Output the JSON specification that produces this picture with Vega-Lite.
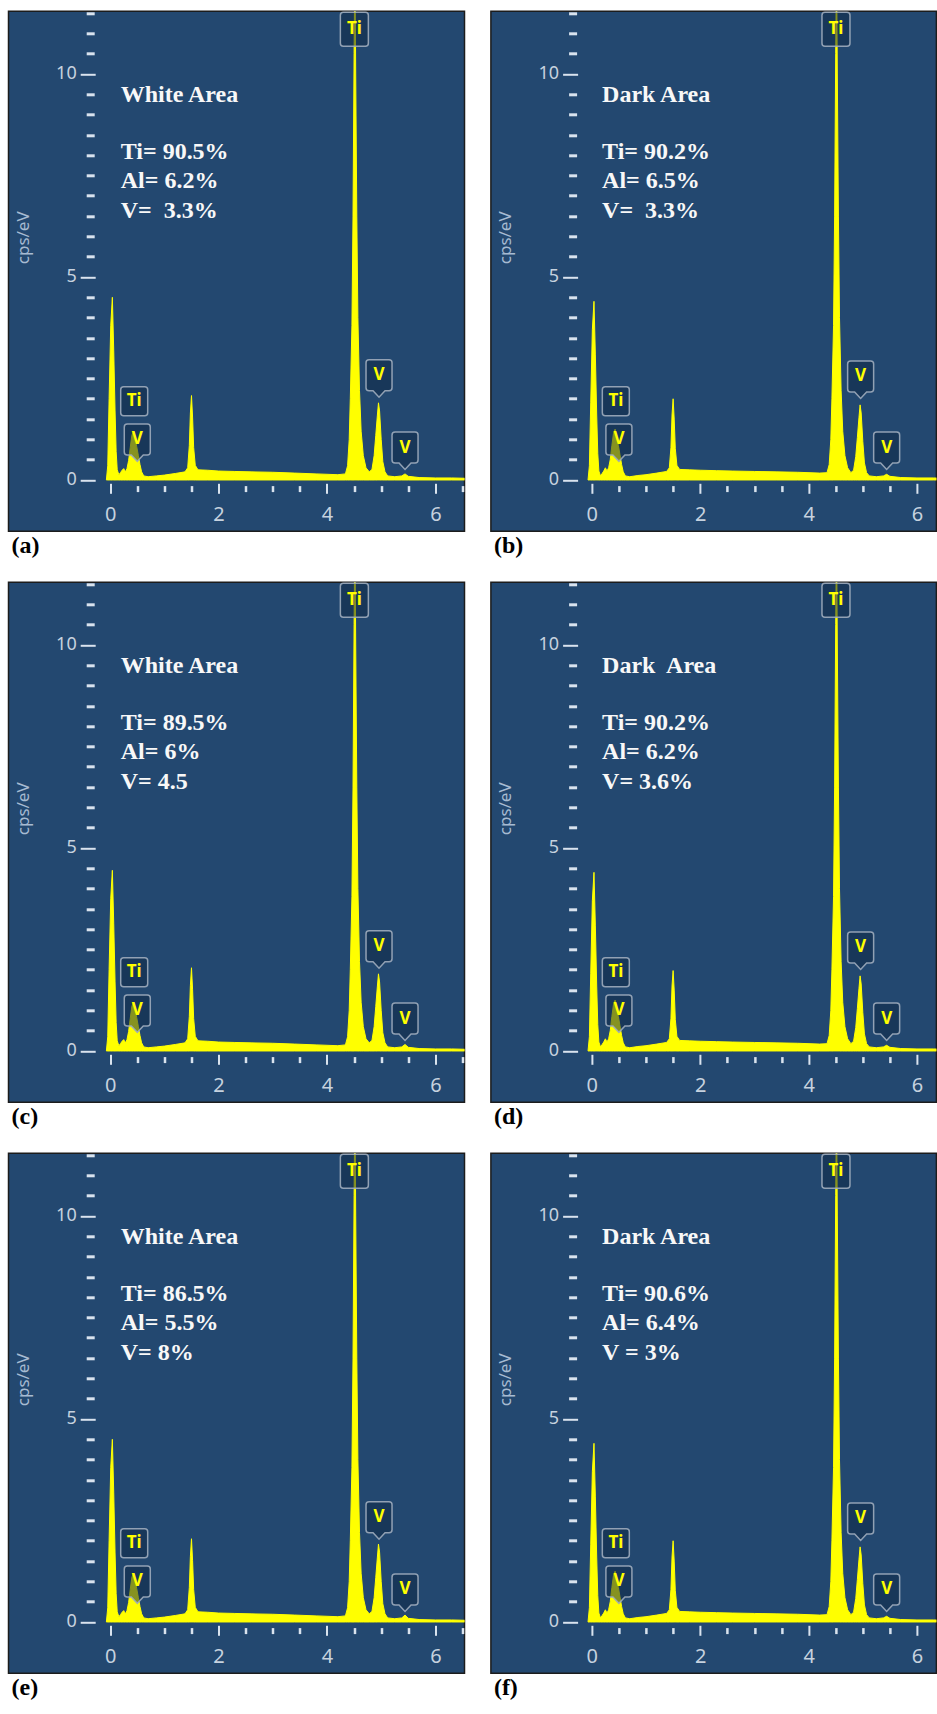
{
"$schema": "https://vega.github.io/schema/vega-lite/v6.json",
"padding": {"left": 7.5, "top": 8.3, "right": 0, "bottom": 0},
"background": "white",
"bounds": "flush",
"columns": 2,
"spacing": {"row": 51, "column": 26.4},
"datasets": {
"spec": [
{"p":"a","x":-0.07,"y":0},{"p":"a","x":-0.045,"y":0.35},{"p":"a","x":-0.02,"y":2.0},{"p":"a","x":0.01,"y":3.8},{"p":"a","x":0.04,"y":4.5},{"p":"a","x":0.065,"y":3.2},{"p":"a","x":0.09,"y":1.7},{"p":"a","x":0.11,"y":0.7},{"p":"a","x":0.13,"y":0.25},{"p":"a","x":0.16,"y":0.13},{"p":"a","x":0.19,"y":0.18},{"p":"a","x":0.22,"y":0.24},{"p":"a","x":0.25,"y":0.28},{"p":"a","x":0.28,"y":0.2},{"p":"a","x":0.31,"y":0.28},{"p":"a","x":0.34,"y":0.48},{"p":"a","x":0.37,"y":0.8},{"p":"a","x":0.4,"y":1.1},{"p":"a","x":0.43,"y":1.2},{"p":"a","x":0.46,"y":1.02},{"p":"a","x":0.49,"y":0.82},{"p":"a","x":0.52,"y":0.6},{"p":"a","x":0.55,"y":0.38},{"p":"a","x":0.58,"y":0.2},{"p":"a","x":0.62,"y":0.1},{"p":"a","x":0.7,"y":0.08},{"p":"a","x":0.85,"y":0.1},{"p":"a","x":1.0,"y":0.12},{"p":"a","x":1.2,"y":0.16},{"p":"a","x":1.38,"y":0.2},{"p":"a","x":1.43,"y":0.3},{"p":"a","x":1.46,"y":0.85},{"p":"a","x":1.48,"y":1.65},{"p":"a","x":1.5,"y":2.08},{"p":"a","x":1.52,"y":1.55},{"p":"a","x":1.54,"y":0.8},{"p":"a","x":1.57,"y":0.36},{"p":"a","x":1.62,"y":0.25},{"p":"a","x":1.8,"y":0.24},{"p":"a","x":2.0,"y":0.22},{"p":"a","x":2.3,"y":0.21},{"p":"a","x":2.6,"y":0.2},{"p":"a","x":3.0,"y":0.19},{"p":"a","x":3.4,"y":0.17},{"p":"a","x":3.8,"y":0.15},{"p":"a","x":4.2,"y":0.13},{"p":"a","x":4.34,"y":0.15},{"p":"a","x":4.38,"y":0.35},{"p":"a","x":4.41,"y":1.0},{"p":"a","x":4.43,"y":2.0},{"p":"a","x":4.46,"y":3.8},{"p":"a","x":4.48,"y":6.5},{"p":"a","x":4.5,"y":10.5},{"p":"a","x":4.515,"y":13},{"p":"a","x":4.53,"y":10},{"p":"a","x":4.55,"y":6.5},{"p":"a","x":4.57,"y":4.0},{"p":"a","x":4.6,"y":2.2},{"p":"a","x":4.63,"y":1.2},{"p":"a","x":4.67,"y":0.6},{"p":"a","x":4.72,"y":0.3},{"p":"a","x":4.78,"y":0.2},{"p":"a","x":4.83,"y":0.26},{"p":"a","x":4.87,"y":0.6},{"p":"a","x":4.9,"y":1.1},{"p":"a","x":4.93,"y":1.6},{"p":"a","x":4.95,"y":1.9},{"p":"a","x":4.97,"y":1.7},{"p":"a","x":5.0,"y":1.0},{"p":"a","x":5.03,"y":0.45},{"p":"a","x":5.07,"y":0.2},{"p":"a","x":5.12,"y":0.1},{"p":"a","x":5.25,"y":0.08},{"p":"a","x":5.38,"y":0.1},{"p":"a","x":5.44,"y":0.15},{"p":"a","x":5.5,"y":0.09},{"p":"a","x":5.7,"y":0.06},{"p":"a","x":6.0,"y":0.05},{"p":"a","x":6.3,"y":0.05},{"p":"a","x":6.6,"y":0.04},
{"p":"b","x":-0.07,"y":0},{"p":"b","x":-0.045,"y":0.35},{"p":"b","x":-0.02,"y":1.9},{"p":"b","x":0.01,"y":3.7},{"p":"b","x":0.04,"y":4.4},{"p":"b","x":0.065,"y":3.1},{"p":"b","x":0.09,"y":1.6},{"p":"b","x":0.11,"y":0.65},{"p":"b","x":0.13,"y":0.22},{"p":"b","x":0.16,"y":0.1},{"p":"b","x":0.19,"y":0.16},{"p":"b","x":0.22,"y":0.22},{"p":"b","x":0.25,"y":0.3},{"p":"b","x":0.28,"y":0.22},{"p":"b","x":0.31,"y":0.3},{"p":"b","x":0.34,"y":0.5},{"p":"b","x":0.37,"y":0.85},{"p":"b","x":0.4,"y":1.15},{"p":"b","x":0.43,"y":1.25},{"p":"b","x":0.46,"y":1.05},{"p":"b","x":0.49,"y":0.85},{"p":"b","x":0.52,"y":0.62},{"p":"b","x":0.55,"y":0.38},{"p":"b","x":0.58,"y":0.2},{"p":"b","x":0.62,"y":0.1},{"p":"b","x":0.7,"y":0.08},{"p":"b","x":0.85,"y":0.11},{"p":"b","x":1.0,"y":0.13},{"p":"b","x":1.2,"y":0.17},{"p":"b","x":1.38,"y":0.21},{"p":"b","x":1.43,"y":0.3},{"p":"b","x":1.46,"y":0.8},{"p":"b","x":1.48,"y":1.6},{"p":"b","x":1.5,"y":2.0},{"p":"b","x":1.52,"y":1.5},{"p":"b","x":1.54,"y":0.78},{"p":"b","x":1.57,"y":0.36},{"p":"b","x":1.62,"y":0.26},{"p":"b","x":1.8,"y":0.25},{"p":"b","x":2.0,"y":0.24},{"p":"b","x":2.3,"y":0.23},{"p":"b","x":2.6,"y":0.22},{"p":"b","x":3.0,"y":0.21},{"p":"b","x":3.4,"y":0.2},{"p":"b","x":3.8,"y":0.19},{"p":"b","x":4.2,"y":0.17},{"p":"b","x":4.34,"y":0.18},{"p":"b","x":4.38,"y":0.38},{"p":"b","x":4.41,"y":1.0},{"p":"b","x":4.43,"y":2.0},{"p":"b","x":4.46,"y":3.8},{"p":"b","x":4.48,"y":6.5},{"p":"b","x":4.5,"y":10.5},{"p":"b","x":4.515,"y":13},{"p":"b","x":4.53,"y":10},{"p":"b","x":4.55,"y":6.5},{"p":"b","x":4.57,"y":4.0},{"p":"b","x":4.6,"y":2.2},{"p":"b","x":4.63,"y":1.2},{"p":"b","x":4.67,"y":0.6},{"p":"b","x":4.72,"y":0.3},{"p":"b","x":4.78,"y":0.18},{"p":"b","x":4.83,"y":0.24},{"p":"b","x":4.87,"y":0.58},{"p":"b","x":4.9,"y":1.05},{"p":"b","x":4.93,"y":1.55},{"p":"b","x":4.95,"y":1.85},{"p":"b","x":4.97,"y":1.65},{"p":"b","x":5.0,"y":0.95},{"p":"b","x":5.03,"y":0.42},{"p":"b","x":5.07,"y":0.18},{"p":"b","x":5.12,"y":0.1},{"p":"b","x":5.25,"y":0.08},{"p":"b","x":5.38,"y":0.1},{"p":"b","x":5.44,"y":0.14},{"p":"b","x":5.5,"y":0.09},{"p":"b","x":5.7,"y":0.06},{"p":"b","x":6.0,"y":0.05},{"p":"b","x":6.3,"y":0.05},{"p":"b","x":6.6,"y":0.04},
{"p":"c","x":-0.07,"y":0},{"p":"c","x":-0.045,"y":0.35},{"p":"c","x":-0.02,"y":2.0},{"p":"c","x":0.01,"y":3.75},{"p":"c","x":0.04,"y":4.45},{"p":"c","x":0.065,"y":3.15},{"p":"c","x":0.09,"y":1.7},{"p":"c","x":0.11,"y":0.7},{"p":"c","x":0.13,"y":0.25},{"p":"c","x":0.16,"y":0.13},{"p":"c","x":0.19,"y":0.18},{"p":"c","x":0.22,"y":0.24},{"p":"c","x":0.25,"y":0.28},{"p":"c","x":0.28,"y":0.2},{"p":"c","x":0.31,"y":0.28},{"p":"c","x":0.34,"y":0.48},{"p":"c","x":0.37,"y":0.8},{"p":"c","x":0.4,"y":1.1},{"p":"c","x":0.43,"y":1.2},{"p":"c","x":0.46,"y":1.02},{"p":"c","x":0.49,"y":0.82},{"p":"c","x":0.52,"y":0.6},{"p":"c","x":0.55,"y":0.38},{"p":"c","x":0.58,"y":0.2},{"p":"c","x":0.62,"y":0.1},{"p":"c","x":0.7,"y":0.08},{"p":"c","x":0.85,"y":0.1},{"p":"c","x":1.0,"y":0.12},{"p":"c","x":1.2,"y":0.16},{"p":"c","x":1.38,"y":0.2},{"p":"c","x":1.43,"y":0.3},{"p":"c","x":1.46,"y":0.85},{"p":"c","x":1.48,"y":1.62},{"p":"c","x":1.5,"y":2.05},{"p":"c","x":1.52,"y":1.52},{"p":"c","x":1.54,"y":0.8},{"p":"c","x":1.57,"y":0.36},{"p":"c","x":1.62,"y":0.25},{"p":"c","x":1.8,"y":0.24},{"p":"c","x":2.0,"y":0.22},{"p":"c","x":2.3,"y":0.21},{"p":"c","x":2.6,"y":0.2},{"p":"c","x":3.0,"y":0.19},{"p":"c","x":3.4,"y":0.17},{"p":"c","x":3.8,"y":0.15},{"p":"c","x":4.2,"y":0.13},{"p":"c","x":4.34,"y":0.15},{"p":"c","x":4.38,"y":0.35},{"p":"c","x":4.41,"y":1.0},{"p":"c","x":4.43,"y":2.0},{"p":"c","x":4.46,"y":3.8},{"p":"c","x":4.48,"y":6.5},{"p":"c","x":4.5,"y":10.5},{"p":"c","x":4.515,"y":13},{"p":"c","x":4.53,"y":10},{"p":"c","x":4.55,"y":6.5},{"p":"c","x":4.57,"y":4.0},{"p":"c","x":4.6,"y":2.2},{"p":"c","x":4.63,"y":1.2},{"p":"c","x":4.67,"y":0.6},{"p":"c","x":4.72,"y":0.3},{"p":"c","x":4.78,"y":0.2},{"p":"c","x":4.83,"y":0.26},{"p":"c","x":4.87,"y":0.6},{"p":"c","x":4.9,"y":1.1},{"p":"c","x":4.93,"y":1.6},{"p":"c","x":4.95,"y":1.9},{"p":"c","x":4.97,"y":1.7},{"p":"c","x":5.0,"y":1.0},{"p":"c","x":5.03,"y":0.45},{"p":"c","x":5.07,"y":0.2},{"p":"c","x":5.12,"y":0.1},{"p":"c","x":5.25,"y":0.08},{"p":"c","x":5.38,"y":0.1},{"p":"c","x":5.44,"y":0.16},{"p":"c","x":5.5,"y":0.09},{"p":"c","x":5.7,"y":0.06},{"p":"c","x":6.0,"y":0.05},{"p":"c","x":6.3,"y":0.05},{"p":"c","x":6.6,"y":0.04},
{"p":"d","x":-0.07,"y":0},{"p":"d","x":-0.045,"y":0.35},{"p":"d","x":-0.02,"y":1.9},{"p":"d","x":0.01,"y":3.7},{"p":"d","x":0.04,"y":4.4},{"p":"d","x":0.065,"y":3.1},{"p":"d","x":0.09,"y":1.6},{"p":"d","x":0.11,"y":0.65},{"p":"d","x":0.13,"y":0.22},{"p":"d","x":0.16,"y":0.1},{"p":"d","x":0.19,"y":0.16},{"p":"d","x":0.22,"y":0.22},{"p":"d","x":0.25,"y":0.3},{"p":"d","x":0.28,"y":0.22},{"p":"d","x":0.31,"y":0.3},{"p":"d","x":0.34,"y":0.5},{"p":"d","x":0.37,"y":0.85},{"p":"d","x":0.4,"y":1.15},{"p":"d","x":0.43,"y":1.25},{"p":"d","x":0.46,"y":1.05},{"p":"d","x":0.49,"y":0.85},{"p":"d","x":0.52,"y":0.62},{"p":"d","x":0.55,"y":0.38},{"p":"d","x":0.58,"y":0.2},{"p":"d","x":0.62,"y":0.1},{"p":"d","x":0.7,"y":0.08},{"p":"d","x":0.85,"y":0.11},{"p":"d","x":1.0,"y":0.13},{"p":"d","x":1.2,"y":0.17},{"p":"d","x":1.38,"y":0.21},{"p":"d","x":1.43,"y":0.3},{"p":"d","x":1.46,"y":0.8},{"p":"d","x":1.48,"y":1.6},{"p":"d","x":1.5,"y":1.98},{"p":"d","x":1.52,"y":1.5},{"p":"d","x":1.54,"y":0.78},{"p":"d","x":1.57,"y":0.36},{"p":"d","x":1.62,"y":0.26},{"p":"d","x":1.8,"y":0.25},{"p":"d","x":2.0,"y":0.24},{"p":"d","x":2.3,"y":0.23},{"p":"d","x":2.6,"y":0.22},{"p":"d","x":3.0,"y":0.21},{"p":"d","x":3.4,"y":0.2},{"p":"d","x":3.8,"y":0.19},{"p":"d","x":4.2,"y":0.17},{"p":"d","x":4.34,"y":0.18},{"p":"d","x":4.38,"y":0.38},{"p":"d","x":4.41,"y":1.0},{"p":"d","x":4.43,"y":2.0},{"p":"d","x":4.46,"y":3.8},{"p":"d","x":4.48,"y":6.5},{"p":"d","x":4.5,"y":10.5},{"p":"d","x":4.515,"y":13},{"p":"d","x":4.53,"y":10},{"p":"d","x":4.55,"y":6.5},{"p":"d","x":4.57,"y":4.0},{"p":"d","x":4.6,"y":2.2},{"p":"d","x":4.63,"y":1.2},{"p":"d","x":4.67,"y":0.6},{"p":"d","x":4.72,"y":0.3},{"p":"d","x":4.78,"y":0.18},{"p":"d","x":4.83,"y":0.24},{"p":"d","x":4.87,"y":0.58},{"p":"d","x":4.9,"y":1.05},{"p":"d","x":4.93,"y":1.55},{"p":"d","x":4.95,"y":1.85},{"p":"d","x":4.97,"y":1.65},{"p":"d","x":5.0,"y":0.95},{"p":"d","x":5.03,"y":0.42},{"p":"d","x":5.07,"y":0.18},{"p":"d","x":5.12,"y":0.1},{"p":"d","x":5.25,"y":0.08},{"p":"d","x":5.38,"y":0.1},{"p":"d","x":5.44,"y":0.14},{"p":"d","x":5.5,"y":0.09},{"p":"d","x":5.7,"y":0.06},{"p":"d","x":6.0,"y":0.05},{"p":"d","x":6.3,"y":0.05},{"p":"d","x":6.6,"y":0.04},
{"p":"e","x":-0.07,"y":0},{"p":"e","x":-0.045,"y":0.35},{"p":"e","x":-0.02,"y":2.0},{"p":"e","x":0.01,"y":3.8},{"p":"e","x":0.04,"y":4.5},{"p":"e","x":0.065,"y":3.2},{"p":"e","x":0.09,"y":1.7},{"p":"e","x":0.11,"y":0.7},{"p":"e","x":0.13,"y":0.25},{"p":"e","x":0.16,"y":0.13},{"p":"e","x":0.19,"y":0.18},{"p":"e","x":0.22,"y":0.24},{"p":"e","x":0.25,"y":0.28},{"p":"e","x":0.28,"y":0.2},{"p":"e","x":0.31,"y":0.28},{"p":"e","x":0.34,"y":0.48},{"p":"e","x":0.37,"y":0.8},{"p":"e","x":0.4,"y":1.1},{"p":"e","x":0.43,"y":1.2},{"p":"e","x":0.46,"y":1.02},{"p":"e","x":0.49,"y":0.82},{"p":"e","x":0.52,"y":0.6},{"p":"e","x":0.55,"y":0.38},{"p":"e","x":0.58,"y":0.2},{"p":"e","x":0.62,"y":0.1},{"p":"e","x":0.7,"y":0.08},{"p":"e","x":0.85,"y":0.1},{"p":"e","x":1.0,"y":0.12},{"p":"e","x":1.2,"y":0.16},{"p":"e","x":1.38,"y":0.2},{"p":"e","x":1.43,"y":0.3},{"p":"e","x":1.46,"y":0.85},{"p":"e","x":1.48,"y":1.62},{"p":"e","x":1.5,"y":2.05},{"p":"e","x":1.52,"y":1.52},{"p":"e","x":1.54,"y":0.8},{"p":"e","x":1.57,"y":0.36},{"p":"e","x":1.62,"y":0.25},{"p":"e","x":1.8,"y":0.24},{"p":"e","x":2.0,"y":0.22},{"p":"e","x":2.3,"y":0.21},{"p":"e","x":2.6,"y":0.2},{"p":"e","x":3.0,"y":0.19},{"p":"e","x":3.4,"y":0.17},{"p":"e","x":3.8,"y":0.15},{"p":"e","x":4.2,"y":0.13},{"p":"e","x":4.34,"y":0.15},{"p":"e","x":4.38,"y":0.35},{"p":"e","x":4.41,"y":1.0},{"p":"e","x":4.43,"y":2.0},{"p":"e","x":4.46,"y":3.8},{"p":"e","x":4.48,"y":6.5},{"p":"e","x":4.5,"y":10.5},{"p":"e","x":4.515,"y":13},{"p":"e","x":4.53,"y":10},{"p":"e","x":4.55,"y":6.5},{"p":"e","x":4.57,"y":4.0},{"p":"e","x":4.6,"y":2.2},{"p":"e","x":4.63,"y":1.2},{"p":"e","x":4.67,"y":0.6},{"p":"e","x":4.72,"y":0.3},{"p":"e","x":4.78,"y":0.2},{"p":"e","x":4.83,"y":0.26},{"p":"e","x":4.87,"y":0.6},{"p":"e","x":4.9,"y":1.1},{"p":"e","x":4.93,"y":1.6},{"p":"e","x":4.95,"y":1.92},{"p":"e","x":4.97,"y":1.72},{"p":"e","x":5.0,"y":1.0},{"p":"e","x":5.03,"y":0.45},{"p":"e","x":5.07,"y":0.2},{"p":"e","x":5.12,"y":0.1},{"p":"e","x":5.25,"y":0.08},{"p":"e","x":5.38,"y":0.1},{"p":"e","x":5.44,"y":0.17},{"p":"e","x":5.5,"y":0.09},{"p":"e","x":5.7,"y":0.06},{"p":"e","x":6.0,"y":0.05},{"p":"e","x":6.3,"y":0.05},{"p":"e","x":6.6,"y":0.04},
{"p":"f","x":-0.07,"y":0},{"p":"f","x":-0.045,"y":0.35},{"p":"f","x":-0.02,"y":1.9},{"p":"f","x":0.01,"y":3.7},{"p":"f","x":0.04,"y":4.4},{"p":"f","x":0.065,"y":3.1},{"p":"f","x":0.09,"y":1.6},{"p":"f","x":0.11,"y":0.65},{"p":"f","x":0.13,"y":0.22},{"p":"f","x":0.16,"y":0.1},{"p":"f","x":0.19,"y":0.16},{"p":"f","x":0.22,"y":0.22},{"p":"f","x":0.25,"y":0.3},{"p":"f","x":0.28,"y":0.22},{"p":"f","x":0.31,"y":0.3},{"p":"f","x":0.34,"y":0.5},{"p":"f","x":0.37,"y":0.85},{"p":"f","x":0.4,"y":1.15},{"p":"f","x":0.43,"y":1.25},{"p":"f","x":0.46,"y":1.05},{"p":"f","x":0.49,"y":0.85},{"p":"f","x":0.52,"y":0.62},{"p":"f","x":0.55,"y":0.38},{"p":"f","x":0.58,"y":0.2},{"p":"f","x":0.62,"y":0.1},{"p":"f","x":0.7,"y":0.08},{"p":"f","x":0.85,"y":0.11},{"p":"f","x":1.0,"y":0.13},{"p":"f","x":1.2,"y":0.17},{"p":"f","x":1.38,"y":0.21},{"p":"f","x":1.43,"y":0.3},{"p":"f","x":1.46,"y":0.8},{"p":"f","x":1.48,"y":1.6},{"p":"f","x":1.5,"y":2.0},{"p":"f","x":1.52,"y":1.5},{"p":"f","x":1.54,"y":0.78},{"p":"f","x":1.57,"y":0.36},{"p":"f","x":1.62,"y":0.26},{"p":"f","x":1.8,"y":0.25},{"p":"f","x":2.0,"y":0.24},{"p":"f","x":2.3,"y":0.23},{"p":"f","x":2.6,"y":0.22},{"p":"f","x":3.0,"y":0.21},{"p":"f","x":3.4,"y":0.2},{"p":"f","x":3.8,"y":0.19},{"p":"f","x":4.2,"y":0.17},{"p":"f","x":4.34,"y":0.18},{"p":"f","x":4.38,"y":0.38},{"p":"f","x":4.41,"y":1.0},{"p":"f","x":4.43,"y":2.0},{"p":"f","x":4.46,"y":3.8},{"p":"f","x":4.48,"y":6.5},{"p":"f","x":4.5,"y":10.5},{"p":"f","x":4.515,"y":13},{"p":"f","x":4.53,"y":10},{"p":"f","x":4.55,"y":6.5},{"p":"f","x":4.57,"y":4.0},{"p":"f","x":4.6,"y":2.2},{"p":"f","x":4.63,"y":1.2},{"p":"f","x":4.67,"y":0.6},{"p":"f","x":4.72,"y":0.3},{"p":"f","x":4.78,"y":0.18},{"p":"f","x":4.83,"y":0.24},{"p":"f","x":4.87,"y":0.58},{"p":"f","x":4.9,"y":1.05},{"p":"f","x":4.93,"y":1.55},{"p":"f","x":4.95,"y":1.85},{"p":"f","x":4.97,"y":1.65},{"p":"f","x":5.0,"y":0.95},{"p":"f","x":5.03,"y":0.42},{"p":"f","x":5.07,"y":0.18},{"p":"f","x":5.12,"y":0.1},{"p":"f","x":5.25,"y":0.08},{"p":"f","x":5.38,"y":0.1},{"p":"f","x":5.44,"y":0.14},{"p":"f","x":5.5,"y":0.09},{"p":"f","x":5.7,"y":0.06},{"p":"f","x":6.0,"y":0.05},{"p":"f","x":6.3,"y":0.05},{"p":"f","x":6.6,"y":0.04}
],
"box": [
{"p":"a","t":"Ti","s":"T","x":4.505,"y":11.1},{"p":"a","t":"Ti","s":"t","x":0.443,"y":1.94},{"p":"a","t":"V","s":"v","x":0.5,"y":1.0},{"p":"a","t":"V","s":"v","x":4.96,"y":2.58},{"p":"a","t":"V","s":"v","x":5.44,"y":0.8},
{"p":"b","t":"Ti","s":"T","x":4.505,"y":11.1},{"p":"b","t":"Ti","s":"t","x":0.443,"y":1.94},{"p":"b","t":"V","s":"v","x":0.5,"y":1.0},{"p":"b","t":"V","s":"v","x":4.96,"y":2.55},{"p":"b","t":"V","s":"v","x":5.44,"y":0.8},
{"p":"c","t":"Ti","s":"T","x":4.505,"y":11.1},{"p":"c","t":"Ti","s":"t","x":0.443,"y":1.94},{"p":"c","t":"V","s":"v","x":0.5,"y":1.0},{"p":"c","t":"V","s":"v","x":4.96,"y":2.58},{"p":"c","t":"V","s":"v","x":5.44,"y":0.8},
{"p":"d","t":"Ti","s":"T","x":4.505,"y":11.1},{"p":"d","t":"Ti","s":"t","x":0.443,"y":1.94},{"p":"d","t":"V","s":"v","x":0.5,"y":1.0},{"p":"d","t":"V","s":"v","x":4.96,"y":2.55},{"p":"d","t":"V","s":"v","x":5.44,"y":0.8},
{"p":"e","t":"Ti","s":"T","x":4.505,"y":11.1},{"p":"e","t":"Ti","s":"t","x":0.443,"y":1.94},{"p":"e","t":"V","s":"v","x":0.5,"y":1.0},{"p":"e","t":"V","s":"v","x":4.96,"y":2.58},{"p":"e","t":"V","s":"v","x":5.44,"y":0.8},
{"p":"f","t":"Ti","s":"T","x":4.505,"y":11.1},{"p":"f","t":"Ti","s":"t","x":0.443,"y":1.94},{"p":"f","t":"V","s":"v","x":0.5,"y":1.0},{"p":"f","t":"V","s":"v","x":4.96,"y":2.55},{"p":"f","t":"V","s":"v","x":5.44,"y":0.8}
],
"ann": [
{"p":"a","x":0.195,"y":9.32,"t":"White Area"},{"p":"a","x":0.195,"y":7.91,"t":"Ti= 90.5%"},{"p":"a","x":0.195,"y":7.18,"t":"Al= 6.2%"},{"p":"a","x":0.195,"y":6.45,"t":"V=\u00a0 3.3%"},
{"p":"b","x":0.19,"y":9.32,"t":"Dark Area"},{"p":"b","x":0.19,"y":7.91,"t":"Ti= 90.2%"},{"p":"b","x":0.19,"y":7.18,"t":"Al= 6.5%"},{"p":"b","x":0.19,"y":6.45,"t":"V=\u00a0 3.3%"},
{"p":"c","x":0.195,"y":9.32,"t":"White Area"},{"p":"c","x":0.195,"y":7.91,"t":"Ti= 89.5%"},{"p":"c","x":0.195,"y":7.18,"t":"Al= 6%"},{"p":"c","x":0.195,"y":6.45,"t":"V= 4.5"},
{"p":"d","x":0.19,"y":9.32,"t":"Dark\u00a0 Area"},{"p":"d","x":0.19,"y":7.91,"t":"Ti= 90.2%"},{"p":"d","x":0.19,"y":7.18,"t":"Al= 6.2%"},{"p":"d","x":0.19,"y":6.45,"t":"V= 3.6%"},
{"p":"e","x":0.195,"y":9.32,"t":"White Area"},{"p":"e","x":0.195,"y":7.91,"t":"Ti= 86.5%"},{"p":"e","x":0.195,"y":7.18,"t":"Al= 5.5%"},{"p":"e","x":0.195,"y":6.45,"t":"V= 8%"},
{"p":"f","x":0.19,"y":9.32,"t":"Dark Area"},{"p":"f","x":0.19,"y":7.91,"t":"Ti= 90.6%"},{"p":"f","x":0.19,"y":7.18,"t":"Al= 6.4%"},{"p":"f","x":0.19,"y":6.45,"t":"V = 3%"}
]
},
"concat": [
{"width":456,"height":520,"title":{"text":"(a)","orient":"bottom","anchor":"start","frame":"group","offset":22,"baseline":"alphabetic","font":"Liberation Serif","fontSize":24,"fontWeight":"bold","color":"#000000","dx":3},
 "resolve":{"axis":{"x":"independent","y":"independent"}},
 "layer":[
  {"data":{"name":"spec"},"transform":[{"filter":"datum.p === 'a'"}],"mark":{"type":"area","color":"#ffff00","stroke":"#ffff00","strokeWidth":1,"clip":true,"interpolate":"linear"},
   "encoding":{"x":{"field":"x","type":"quantitative","scale":{"domain":[-1.876,6.537],"nice":false,"zero":false},"axis":{"orient":"bottom","values":[0.5,1,1.5,2.5,3,3.5,4.5,5,5.5,6.5],"labels":false,"tickSize":6,"tickWidth":2.5,"tickColor":"#d9e3ee","offset":-45.7,"title":null}},
    "y":{"field":"y","type":"quantitative","scale":{"domain":[-1.264,11.544],"nice":false,"zero":false},"axis":{"orient":"left","values":[0.5,1,1.5,2,2.5,3,3.5,4,4.5,5.5,6,6.5,7,7.5,8,8.5,9,9.5,10.5,11,11.5],"labels":false,"tickSize":8,"tickWidth":3,"tickColor":"#d9e3ee","offset":-85.7,"title":null}},
    "y2":{"datum":0}}},
  {"data":{"name":"box"},"transform":[{"filter":"datum.p === 'a'"}],"mark":{"type":"point","filled":true,"fill":"#0e2542","fillOpacity":0.5,"stroke":"#9eacbd","strokeWidth":1.5,"strokeOpacity":0.9,"size":4},
   "encoding":{"x":{"field":"x","type":"quantitative","scale":{"domain":[-1.876,6.537],"nice":false,"zero":false},"axis":{"orient":"bottom","values":[0,2,4,6],"tickSize":10,"tickWidth":2,"tickColor":"#d9e3ee","offset":-48,"labelFont":"Noto Sans","labelFontSize":20,"labelColor":"#c6d2df","labelPadding":11,"title":null}},
    "y":{"field":"y","type":"quantitative","scale":{"domain":[-1.264,11.544],"nice":false,"zero":false},"axis":{"orient":"left","values":[0,5,10],"tickSize":15,"tickWidth":2,"tickColor":"#d9e3ee","offset":-86.7,"labelFont":"Noto Sans","labelFontSize":18,"labelColor":"#c6d2df","labelPadding":4,"title":"cps/eV","titleFont":"Noto Sans","titleFontSize":17,"titleFontWeight":"normal","titleColor":"#a7bbd2","titleX":-72,"titleY":226,"titleBaseline":"middle","titleAngle":-90,"titleAlign":"center"}},
    "shape":{"field":"s","type":"nominal","legend":null,"scale":{"domain":["T","t","v"],"range":["M-11,-17H11A3,3 0 0 1 14,-14V14A3,3 0 0 1 11,17H-11A3,3 0 0 1 -14,14V-14A3,3 0 0 1 -11,-17Z","M-10.5,-14.5H10.5A3,3 0 0 1 13.5,-11.5V11.5A3,3 0 0 1 10.5,14.5H-10.5A3,3 0 0 1 -13.5,11.5V-11.5A3,3 0 0 1 -10.5,-14.5Z","M-10,-15.5H10A3,3 0 0 1 13,-12.5V12.5A3,3 0 0 1 10,15.5H6L0,22L-6,15.5H-10A3,3 0 0 1 -13,12.5V-12.5A3,3 0 0 1 -10,-15.5Z"]}}}},
  {"data":{"name":"box"},"transform":[{"filter":"datum.p === 'a'"}],"mark":{"type":"text","font":"Noto Sans","fontWeight":"bold","fontSize":17,"color":"#ffff00","align":"center","baseline":"middle"},
   "encoding":{"x":{"field":"x","type":"quantitative","scale":{"domain":[-1.876,6.537],"nice":false,"zero":false},"axis":null},"y":{"field":"y","type":"quantitative","scale":{"domain":[-1.264,11.544],"nice":false,"zero":false},"axis":null},"text":{"field":"t"}}},
  {"data":{"name":"ann"},"transform":[{"filter":"datum.p === 'a'"}],"mark":{"type":"text","font":"Liberation Serif","fontWeight":"bold","fontSize":24,"color":"#f8f8f8","align":"left","baseline":"alphabetic"},
   "encoding":{"x":{"field":"x","type":"quantitative","scale":{"domain":[-1.876,6.537],"nice":false,"zero":false},"axis":null},"y":{"field":"y","type":"quantitative","scale":{"domain":[-1.264,11.544],"nice":false,"zero":false},"axis":null},"text":{"field":"t"}}}
 ]},
{"width":445.5,"height":520,"title":{"text":"(b)","orient":"bottom","anchor":"start","frame":"group","offset":22,"baseline":"alphabetic","font":"Liberation Serif","fontSize":24,"fontWeight":"bold","color":"#000000","dx":3},
 "resolve":{"axis":{"x":"independent","y":"independent"}},
 "layer":[
  {"data":{"name":"spec"},"transform":[{"filter":"datum.p === 'b'"}],"mark":{"type":"area","color":"#ffff00","stroke":"#ffff00","strokeWidth":1,"clip":true,"interpolate":"linear"},
   "encoding":{"x":{"field":"x","type":"quantitative","scale":{"domain":[-1.862,6.358],"nice":false,"zero":false},"axis":{"orient":"bottom","values":[0.5,1,1.5,2.5,3,3.5,4.5,5,5.5],"labels":false,"tickSize":6,"tickWidth":2.5,"tickColor":"#d9e3ee","offset":-45.7,"title":null}},
    "y":{"field":"y","type":"quantitative","scale":{"domain":[-1.264,11.544],"nice":false,"zero":false},"axis":{"orient":"left","values":[0.5,1,1.5,2,2.5,3,3.5,4,4.5,5.5,6,6.5,7,7.5,8,8.5,9,9.5,10.5,11,11.5],"labels":false,"tickSize":8,"tickWidth":3,"tickColor":"#d9e3ee","offset":-85.7,"title":null}},
    "y2":{"datum":0}}},
  {"data":{"name":"box"},"transform":[{"filter":"datum.p === 'b'"}],"mark":{"type":"point","filled":true,"fill":"#0e2542","fillOpacity":0.5,"stroke":"#9eacbd","strokeWidth":1.5,"strokeOpacity":0.9,"size":4},
   "encoding":{"x":{"field":"x","type":"quantitative","scale":{"domain":[-1.862,6.358],"nice":false,"zero":false},"axis":{"orient":"bottom","values":[0,2,4,6],"tickSize":10,"tickWidth":2,"tickColor":"#d9e3ee","offset":-48,"labelFont":"Noto Sans","labelFontSize":20,"labelColor":"#c6d2df","labelPadding":11,"title":null}},
    "y":{"field":"y","type":"quantitative","scale":{"domain":[-1.264,11.544],"nice":false,"zero":false},"axis":{"orient":"left","values":[0,5,10],"tickSize":15,"tickWidth":2,"tickColor":"#d9e3ee","offset":-86.7,"labelFont":"Noto Sans","labelFontSize":18,"labelColor":"#c6d2df","labelPadding":4,"title":"cps/eV","titleFont":"Noto Sans","titleFontSize":17,"titleFontWeight":"normal","titleColor":"#a7bbd2","titleX":-72,"titleY":226,"titleBaseline":"middle","titleAngle":-90,"titleAlign":"center"}},
    "shape":{"field":"s","type":"nominal","legend":null,"scale":{"domain":["T","t","v"],"range":["M-11,-17H11A3,3 0 0 1 14,-14V14A3,3 0 0 1 11,17H-11A3,3 0 0 1 -14,14V-14A3,3 0 0 1 -11,-17Z","M-10.5,-14.5H10.5A3,3 0 0 1 13.5,-11.5V11.5A3,3 0 0 1 10.5,14.5H-10.5A3,3 0 0 1 -13.5,11.5V-11.5A3,3 0 0 1 -10.5,-14.5Z","M-10,-15.5H10A3,3 0 0 1 13,-12.5V12.5A3,3 0 0 1 10,15.5H6L0,22L-6,15.5H-10A3,3 0 0 1 -13,12.5V-12.5A3,3 0 0 1 -10,-15.5Z"]}}}},
  {"data":{"name":"box"},"transform":[{"filter":"datum.p === 'b'"}],"mark":{"type":"text","font":"Noto Sans","fontWeight":"bold","fontSize":17,"color":"#ffff00","align":"center","baseline":"middle"},
   "encoding":{"x":{"field":"x","type":"quantitative","scale":{"domain":[-1.862,6.358],"nice":false,"zero":false},"axis":null},"y":{"field":"y","type":"quantitative","scale":{"domain":[-1.264,11.544],"nice":false,"zero":false},"axis":null},"text":{"field":"t"}}},
  {"data":{"name":"ann"},"transform":[{"filter":"datum.p === 'b'"}],"mark":{"type":"text","font":"Liberation Serif","fontWeight":"bold","fontSize":24,"color":"#f8f8f8","align":"left","baseline":"alphabetic"},
   "encoding":{"x":{"field":"x","type":"quantitative","scale":{"domain":[-1.862,6.358],"nice":false,"zero":false},"axis":null},"y":{"field":"y","type":"quantitative","scale":{"domain":[-1.264,11.544],"nice":false,"zero":false},"axis":null},"text":{"field":"t"}}}
 ]},
{"width":456,"height":520,"title":{"text":"(c)","orient":"bottom","anchor":"start","frame":"group","offset":22,"baseline":"alphabetic","font":"Liberation Serif","fontSize":24,"fontWeight":"bold","color":"#000000","dx":3},
 "resolve":{"axis":{"x":"independent","y":"independent"}},
 "layer":[
  {"data":{"name":"spec"},"transform":[{"filter":"datum.p === 'c'"}],"mark":{"type":"area","color":"#ffff00","stroke":"#ffff00","strokeWidth":1,"clip":true,"interpolate":"linear"},
   "encoding":{"x":{"field":"x","type":"quantitative","scale":{"domain":[-1.876,6.537],"nice":false,"zero":false},"axis":{"orient":"bottom","values":[0.5,1,1.5,2.5,3,3.5,4.5,5,5.5,6.5],"labels":false,"tickSize":6,"tickWidth":2.5,"tickColor":"#d9e3ee","offset":-45.7,"title":null}},
    "y":{"field":"y","type":"quantitative","scale":{"domain":[-1.264,11.544],"nice":false,"zero":false},"axis":{"orient":"left","values":[0.5,1,1.5,2,2.5,3,3.5,4,4.5,5.5,6,6.5,7,7.5,8,8.5,9,9.5,10.5,11,11.5],"labels":false,"tickSize":8,"tickWidth":3,"tickColor":"#d9e3ee","offset":-85.7,"title":null}},
    "y2":{"datum":0}}},
  {"data":{"name":"box"},"transform":[{"filter":"datum.p === 'c'"}],"mark":{"type":"point","filled":true,"fill":"#0e2542","fillOpacity":0.5,"stroke":"#9eacbd","strokeWidth":1.5,"strokeOpacity":0.9,"size":4},
   "encoding":{"x":{"field":"x","type":"quantitative","scale":{"domain":[-1.876,6.537],"nice":false,"zero":false},"axis":{"orient":"bottom","values":[0,2,4,6],"tickSize":10,"tickWidth":2,"tickColor":"#d9e3ee","offset":-48,"labelFont":"Noto Sans","labelFontSize":20,"labelColor":"#c6d2df","labelPadding":11,"title":null}},
    "y":{"field":"y","type":"quantitative","scale":{"domain":[-1.264,11.544],"nice":false,"zero":false},"axis":{"orient":"left","values":[0,5,10],"tickSize":15,"tickWidth":2,"tickColor":"#d9e3ee","offset":-86.7,"labelFont":"Noto Sans","labelFontSize":18,"labelColor":"#c6d2df","labelPadding":4,"title":"cps/eV","titleFont":"Noto Sans","titleFontSize":17,"titleFontWeight":"normal","titleColor":"#a7bbd2","titleX":-72,"titleY":226,"titleBaseline":"middle","titleAngle":-90,"titleAlign":"center"}},
    "shape":{"field":"s","type":"nominal","legend":null,"scale":{"domain":["T","t","v"],"range":["M-11,-17H11A3,3 0 0 1 14,-14V14A3,3 0 0 1 11,17H-11A3,3 0 0 1 -14,14V-14A3,3 0 0 1 -11,-17Z","M-10.5,-14.5H10.5A3,3 0 0 1 13.5,-11.5V11.5A3,3 0 0 1 10.5,14.5H-10.5A3,3 0 0 1 -13.5,11.5V-11.5A3,3 0 0 1 -10.5,-14.5Z","M-10,-15.5H10A3,3 0 0 1 13,-12.5V12.5A3,3 0 0 1 10,15.5H6L0,22L-6,15.5H-10A3,3 0 0 1 -13,12.5V-12.5A3,3 0 0 1 -10,-15.5Z"]}}}},
  {"data":{"name":"box"},"transform":[{"filter":"datum.p === 'c'"}],"mark":{"type":"text","font":"Noto Sans","fontWeight":"bold","fontSize":17,"color":"#ffff00","align":"center","baseline":"middle"},
   "encoding":{"x":{"field":"x","type":"quantitative","scale":{"domain":[-1.876,6.537],"nice":false,"zero":false},"axis":null},"y":{"field":"y","type":"quantitative","scale":{"domain":[-1.264,11.544],"nice":false,"zero":false},"axis":null},"text":{"field":"t"}}},
  {"data":{"name":"ann"},"transform":[{"filter":"datum.p === 'c'"}],"mark":{"type":"text","font":"Liberation Serif","fontWeight":"bold","fontSize":24,"color":"#f8f8f8","align":"left","baseline":"alphabetic"},
   "encoding":{"x":{"field":"x","type":"quantitative","scale":{"domain":[-1.876,6.537],"nice":false,"zero":false},"axis":null},"y":{"field":"y","type":"quantitative","scale":{"domain":[-1.264,11.544],"nice":false,"zero":false},"axis":null},"text":{"field":"t"}}}
 ]},
{"width":445.5,"height":520,"title":{"text":"(d)","orient":"bottom","anchor":"start","frame":"group","offset":22,"baseline":"alphabetic","font":"Liberation Serif","fontSize":24,"fontWeight":"bold","color":"#000000","dx":3},
 "resolve":{"axis":{"x":"independent","y":"independent"}},
 "layer":[
  {"data":{"name":"spec"},"transform":[{"filter":"datum.p === 'd'"}],"mark":{"type":"area","color":"#ffff00","stroke":"#ffff00","strokeWidth":1,"clip":true,"interpolate":"linear"},
   "encoding":{"x":{"field":"x","type":"quantitative","scale":{"domain":[-1.862,6.358],"nice":false,"zero":false},"axis":{"orient":"bottom","values":[0.5,1,1.5,2.5,3,3.5,4.5,5,5.5],"labels":false,"tickSize":6,"tickWidth":2.5,"tickColor":"#d9e3ee","offset":-45.7,"title":null}},
    "y":{"field":"y","type":"quantitative","scale":{"domain":[-1.264,11.544],"nice":false,"zero":false},"axis":{"orient":"left","values":[0.5,1,1.5,2,2.5,3,3.5,4,4.5,5.5,6,6.5,7,7.5,8,8.5,9,9.5,10.5,11,11.5],"labels":false,"tickSize":8,"tickWidth":3,"tickColor":"#d9e3ee","offset":-85.7,"title":null}},
    "y2":{"datum":0}}},
  {"data":{"name":"box"},"transform":[{"filter":"datum.p === 'd'"}],"mark":{"type":"point","filled":true,"fill":"#0e2542","fillOpacity":0.5,"stroke":"#9eacbd","strokeWidth":1.5,"strokeOpacity":0.9,"size":4},
   "encoding":{"x":{"field":"x","type":"quantitative","scale":{"domain":[-1.862,6.358],"nice":false,"zero":false},"axis":{"orient":"bottom","values":[0,2,4,6],"tickSize":10,"tickWidth":2,"tickColor":"#d9e3ee","offset":-48,"labelFont":"Noto Sans","labelFontSize":20,"labelColor":"#c6d2df","labelPadding":11,"title":null}},
    "y":{"field":"y","type":"quantitative","scale":{"domain":[-1.264,11.544],"nice":false,"zero":false},"axis":{"orient":"left","values":[0,5,10],"tickSize":15,"tickWidth":2,"tickColor":"#d9e3ee","offset":-86.7,"labelFont":"Noto Sans","labelFontSize":18,"labelColor":"#c6d2df","labelPadding":4,"title":"cps/eV","titleFont":"Noto Sans","titleFontSize":17,"titleFontWeight":"normal","titleColor":"#a7bbd2","titleX":-72,"titleY":226,"titleBaseline":"middle","titleAngle":-90,"titleAlign":"center"}},
    "shape":{"field":"s","type":"nominal","legend":null,"scale":{"domain":["T","t","v"],"range":["M-11,-17H11A3,3 0 0 1 14,-14V14A3,3 0 0 1 11,17H-11A3,3 0 0 1 -14,14V-14A3,3 0 0 1 -11,-17Z","M-10.5,-14.5H10.5A3,3 0 0 1 13.5,-11.5V11.5A3,3 0 0 1 10.5,14.5H-10.5A3,3 0 0 1 -13.5,11.5V-11.5A3,3 0 0 1 -10.5,-14.5Z","M-10,-15.5H10A3,3 0 0 1 13,-12.5V12.5A3,3 0 0 1 10,15.5H6L0,22L-6,15.5H-10A3,3 0 0 1 -13,12.5V-12.5A3,3 0 0 1 -10,-15.5Z"]}}}},
  {"data":{"name":"box"},"transform":[{"filter":"datum.p === 'd'"}],"mark":{"type":"text","font":"Noto Sans","fontWeight":"bold","fontSize":17,"color":"#ffff00","align":"center","baseline":"middle"},
   "encoding":{"x":{"field":"x","type":"quantitative","scale":{"domain":[-1.862,6.358],"nice":false,"zero":false},"axis":null},"y":{"field":"y","type":"quantitative","scale":{"domain":[-1.264,11.544],"nice":false,"zero":false},"axis":null},"text":{"field":"t"}}},
  {"data":{"name":"ann"},"transform":[{"filter":"datum.p === 'd'"}],"mark":{"type":"text","font":"Liberation Serif","fontWeight":"bold","fontSize":24,"color":"#f8f8f8","align":"left","baseline":"alphabetic"},
   "encoding":{"x":{"field":"x","type":"quantitative","scale":{"domain":[-1.862,6.358],"nice":false,"zero":false},"axis":null},"y":{"field":"y","type":"quantitative","scale":{"domain":[-1.264,11.544],"nice":false,"zero":false},"axis":null},"text":{"field":"t"}}}
 ]},
{"width":456,"height":520,"title":{"text":"(e)","orient":"bottom","anchor":"start","frame":"group","offset":22,"baseline":"alphabetic","font":"Liberation Serif","fontSize":24,"fontWeight":"bold","color":"#000000","dx":3},
 "resolve":{"axis":{"x":"independent","y":"independent"}},
 "layer":[
  {"data":{"name":"spec"},"transform":[{"filter":"datum.p === 'e'"}],"mark":{"type":"area","color":"#ffff00","stroke":"#ffff00","strokeWidth":1,"clip":true,"interpolate":"linear"},
   "encoding":{"x":{"field":"x","type":"quantitative","scale":{"domain":[-1.876,6.537],"nice":false,"zero":false},"axis":{"orient":"bottom","values":[0.5,1,1.5,2.5,3,3.5,4.5,5,5.5,6.5],"labels":false,"tickSize":6,"tickWidth":2.5,"tickColor":"#d9e3ee","offset":-45.7,"title":null}},
    "y":{"field":"y","type":"quantitative","scale":{"domain":[-1.264,11.544],"nice":false,"zero":false},"axis":{"orient":"left","values":[0.5,1,1.5,2,2.5,3,3.5,4,4.5,5.5,6,6.5,7,7.5,8,8.5,9,9.5,10.5,11,11.5],"labels":false,"tickSize":8,"tickWidth":3,"tickColor":"#d9e3ee","offset":-85.7,"title":null}},
    "y2":{"datum":0}}},
  {"data":{"name":"box"},"transform":[{"filter":"datum.p === 'e'"}],"mark":{"type":"point","filled":true,"fill":"#0e2542","fillOpacity":0.5,"stroke":"#9eacbd","strokeWidth":1.5,"strokeOpacity":0.9,"size":4},
   "encoding":{"x":{"field":"x","type":"quantitative","scale":{"domain":[-1.876,6.537],"nice":false,"zero":false},"axis":{"orient":"bottom","values":[0,2,4,6],"tickSize":10,"tickWidth":2,"tickColor":"#d9e3ee","offset":-48,"labelFont":"Noto Sans","labelFontSize":20,"labelColor":"#c6d2df","labelPadding":11,"title":null}},
    "y":{"field":"y","type":"quantitative","scale":{"domain":[-1.264,11.544],"nice":false,"zero":false},"axis":{"orient":"left","values":[0,5,10],"tickSize":15,"tickWidth":2,"tickColor":"#d9e3ee","offset":-86.7,"labelFont":"Noto Sans","labelFontSize":18,"labelColor":"#c6d2df","labelPadding":4,"title":"cps/eV","titleFont":"Noto Sans","titleFontSize":17,"titleFontWeight":"normal","titleColor":"#a7bbd2","titleX":-72,"titleY":226,"titleBaseline":"middle","titleAngle":-90,"titleAlign":"center"}},
    "shape":{"field":"s","type":"nominal","legend":null,"scale":{"domain":["T","t","v"],"range":["M-11,-17H11A3,3 0 0 1 14,-14V14A3,3 0 0 1 11,17H-11A3,3 0 0 1 -14,14V-14A3,3 0 0 1 -11,-17Z","M-10.5,-14.5H10.5A3,3 0 0 1 13.5,-11.5V11.5A3,3 0 0 1 10.5,14.5H-10.5A3,3 0 0 1 -13.5,11.5V-11.5A3,3 0 0 1 -10.5,-14.5Z","M-10,-15.5H10A3,3 0 0 1 13,-12.5V12.5A3,3 0 0 1 10,15.5H6L0,22L-6,15.5H-10A3,3 0 0 1 -13,12.5V-12.5A3,3 0 0 1 -10,-15.5Z"]}}}},
  {"data":{"name":"box"},"transform":[{"filter":"datum.p === 'e'"}],"mark":{"type":"text","font":"Noto Sans","fontWeight":"bold","fontSize":17,"color":"#ffff00","align":"center","baseline":"middle"},
   "encoding":{"x":{"field":"x","type":"quantitative","scale":{"domain":[-1.876,6.537],"nice":false,"zero":false},"axis":null},"y":{"field":"y","type":"quantitative","scale":{"domain":[-1.264,11.544],"nice":false,"zero":false},"axis":null},"text":{"field":"t"}}},
  {"data":{"name":"ann"},"transform":[{"filter":"datum.p === 'e'"}],"mark":{"type":"text","font":"Liberation Serif","fontWeight":"bold","fontSize":24,"color":"#f8f8f8","align":"left","baseline":"alphabetic"},
   "encoding":{"x":{"field":"x","type":"quantitative","scale":{"domain":[-1.876,6.537],"nice":false,"zero":false},"axis":null},"y":{"field":"y","type":"quantitative","scale":{"domain":[-1.264,11.544],"nice":false,"zero":false},"axis":null},"text":{"field":"t"}}}
 ]},
{"width":445.5,"height":520,"title":{"text":"(f)","orient":"bottom","anchor":"start","frame":"group","offset":22,"baseline":"alphabetic","font":"Liberation Serif","fontSize":24,"fontWeight":"bold","color":"#000000","dx":3},
 "resolve":{"axis":{"x":"independent","y":"independent"}},
 "layer":[
  {"data":{"name":"spec"},"transform":[{"filter":"datum.p === 'f'"}],"mark":{"type":"area","color":"#ffff00","stroke":"#ffff00","strokeWidth":1,"clip":true,"interpolate":"linear"},
   "encoding":{"x":{"field":"x","type":"quantitative","scale":{"domain":[-1.862,6.358],"nice":false,"zero":false},"axis":{"orient":"bottom","values":[0.5,1,1.5,2.5,3,3.5,4.5,5,5.5],"labels":false,"tickSize":6,"tickWidth":2.5,"tickColor":"#d9e3ee","offset":-45.7,"title":null}},
    "y":{"field":"y","type":"quantitative","scale":{"domain":[-1.264,11.544],"nice":false,"zero":false},"axis":{"orient":"left","values":[0.5,1,1.5,2,2.5,3,3.5,4,4.5,5.5,6,6.5,7,7.5,8,8.5,9,9.5,10.5,11,11.5],"labels":false,"tickSize":8,"tickWidth":3,"tickColor":"#d9e3ee","offset":-85.7,"title":null}},
    "y2":{"datum":0}}},
  {"data":{"name":"box"},"transform":[{"filter":"datum.p === 'f'"}],"mark":{"type":"point","filled":true,"fill":"#0e2542","fillOpacity":0.5,"stroke":"#9eacbd","strokeWidth":1.5,"strokeOpacity":0.9,"size":4},
   "encoding":{"x":{"field":"x","type":"quantitative","scale":{"domain":[-1.862,6.358],"nice":false,"zero":false},"axis":{"orient":"bottom","values":[0,2,4,6],"tickSize":10,"tickWidth":2,"tickColor":"#d9e3ee","offset":-48,"labelFont":"Noto Sans","labelFontSize":20,"labelColor":"#c6d2df","labelPadding":11,"title":null}},
    "y":{"field":"y","type":"quantitative","scale":{"domain":[-1.264,11.544],"nice":false,"zero":false},"axis":{"orient":"left","values":[0,5,10],"tickSize":15,"tickWidth":2,"tickColor":"#d9e3ee","offset":-86.7,"labelFont":"Noto Sans","labelFontSize":18,"labelColor":"#c6d2df","labelPadding":4,"title":"cps/eV","titleFont":"Noto Sans","titleFontSize":17,"titleFontWeight":"normal","titleColor":"#a7bbd2","titleX":-72,"titleY":226,"titleBaseline":"middle","titleAngle":-90,"titleAlign":"center"}},
    "shape":{"field":"s","type":"nominal","legend":null,"scale":{"domain":["T","t","v"],"range":["M-11,-17H11A3,3 0 0 1 14,-14V14A3,3 0 0 1 11,17H-11A3,3 0 0 1 -14,14V-14A3,3 0 0 1 -11,-17Z","M-10.5,-14.5H10.5A3,3 0 0 1 13.5,-11.5V11.5A3,3 0 0 1 10.5,14.5H-10.5A3,3 0 0 1 -13.5,11.5V-11.5A3,3 0 0 1 -10.5,-14.5Z","M-10,-15.5H10A3,3 0 0 1 13,-12.5V12.5A3,3 0 0 1 10,15.5H6L0,22L-6,15.5H-10A3,3 0 0 1 -13,12.5V-12.5A3,3 0 0 1 -10,-15.5Z"]}}}},
  {"data":{"name":"box"},"transform":[{"filter":"datum.p === 'f'"}],"mark":{"type":"text","font":"Noto Sans","fontWeight":"bold","fontSize":17,"color":"#ffff00","align":"center","baseline":"middle"},
   "encoding":{"x":{"field":"x","type":"quantitative","scale":{"domain":[-1.862,6.358],"nice":false,"zero":false},"axis":null},"y":{"field":"y","type":"quantitative","scale":{"domain":[-1.264,11.544],"nice":false,"zero":false},"axis":null},"text":{"field":"t"}}},
  {"data":{"name":"ann"},"transform":[{"filter":"datum.p === 'f'"}],"mark":{"type":"text","font":"Liberation Serif","fontWeight":"bold","fontSize":24,"color":"#f8f8f8","align":"left","baseline":"alphabetic"},
   "encoding":{"x":{"field":"x","type":"quantitative","scale":{"domain":[-1.862,6.358],"nice":false,"zero":false},"axis":null},"y":{"field":"y","type":"quantitative","scale":{"domain":[-1.264,11.544],"nice":false,"zero":false},"axis":null},"text":{"field":"t"}}}
 ]}
],
"config": {
  "view": {"fill": "#234870", "stroke": "#1c1c1c", "strokeWidth": 1.5},
  "axis": {"grid": false, "domain": false, "labelFlush": false, "labelOverlap": false}
}
}
